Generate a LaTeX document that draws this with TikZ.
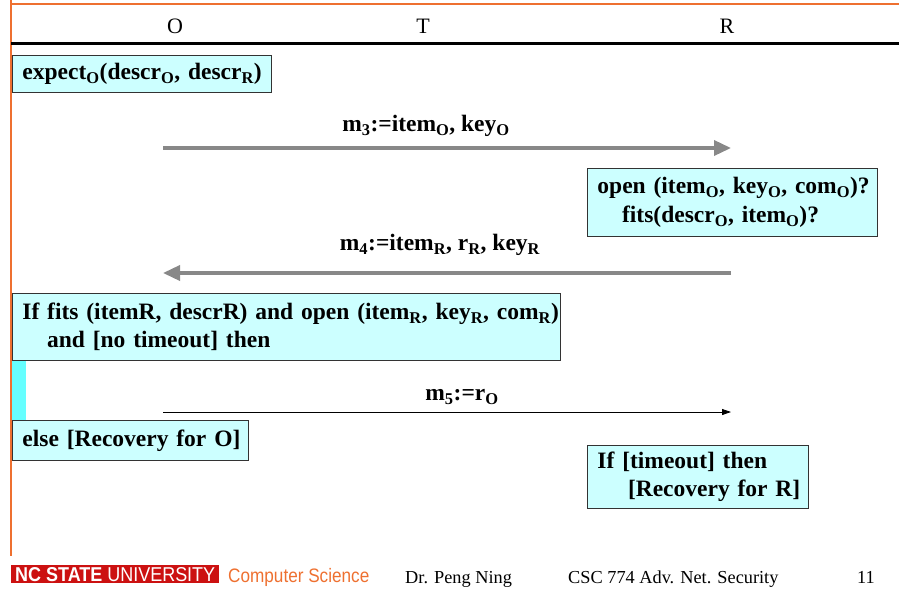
\documentclass[tikz,border=0pt]{standalone}
\usepackage{fontspec}
\setmainfont{Liberation Serif}
\newfontfamily\sansf{Liberation Sans}
\usetikzlibrary{arrows.meta}
\definecolor{boxfill}{HTML}{CCFFFF}
\definecolor{barcyan}{HTML}{66FFFF}
\definecolor{ncorange}{HTML}{EE7030}
\definecolor{ncred}{HTML}{CC1111}
\definecolor{arrgray}{HTML}{888888}
\newcommand{\sbO}{\textsubscript{O}}
\newcommand{\sbR}{\textsubscript{R}}
\begin{document}
\begin{tikzpicture}[x=1pt,y=-1pt,
  box/.style={draw=black!80, line width=0.9pt, fill=boxfill, anchor=north west, align=left,
    inner xsep=10pt, inner ysep=2pt, font=\fontsize{23.5}{28.5}\selectfont\bfseries},
  lbl/.style={font=\fontsize{23.5}{28}\selectfont\bfseries, inner sep=0pt},
  head/.style={font=\fontsize{22}{24}\selectfont, inner sep=0pt},
  foot/.style={font=\fontsize{18.3}{20}\selectfont, inner sep=0pt, anchor=base west},
  bigarrow/.style={draw=arrgray, line width=3.5pt, -{Triangle[length=17pt,width=15pt]}},
  thinarrow/.style={draw=black, line width=0.8pt, -{Triangle[length=9pt,width=6pt]}}]
\useasboundingbox (0,0) rectangle (899,600);
% frame lines
\coordinate (tl) at (11,4);
\coordinate (tr) at (899,4);
\coordinate (bl) at (11,556);
\draw[ncorange, line width=1.2pt] (tl) -- (tr);
\draw[ncorange, line width=1.2pt] (11,0) -- (bl);
\coordinate (hl) at (11,43);
\coordinate (hr) at (899,43);
\draw[black, line width=3pt] (hl) -- (hr);
% headers
\node[head] (hO) at (175,26) {O};
\node[head] (hT) at (423,26) {T};
\node[head] (hR) at (727,26) {R};
% cyan bar
\fill[barcyan] (12,356) rectangle (26,420);
% boxes
\node[box, minimum width=259pt, minimum height=37pt, text width=239pt] (b1) at (12,55)
  {\mbox{expect\sbO(descr\sbO, descr\sbR)}};
\node[box, minimum width=290pt, minimum height=68pt, text width=270pt] (b2) at (587,168)
  {\mbox{open (item\sbO, key\sbO, com\sbO)?}\\\mbox{\hspace*{1.05em}fits(descr\sbO, item\sbO)?}};
\node[box, minimum width=548pt, minimum height=67pt, text width=528pt] (b3) at (12,293)
  {\mbox{If fits (itemR, descrR) and open (item\sbR, key\sbR, com\sbR)}\\\mbox{\hspace*{1.05em}and [no timeout] then}};
\node[box, minimum width=236pt, minimum height=40pt, text width=216pt] (b4) at (12,420)
  {\mbox{else [Recovery for O]}};
\node[box, minimum width=221pt, minimum height=63pt, text width=201pt] (b5) at (587,445)
  {\mbox{If [timeout] then}\\\mbox{\hspace*{1.3em}[Recovery for R]}};
% messages
\coordinate (o3) at (163,148);
\coordinate (r3) at (731,148);
\draw[bigarrow] (o3) -- (r3);
\node[lbl] (m3) at (426,126) {m\textsubscript{3}:=item\sbO, key\sbO};
\coordinate (o4) at (163,273);
\coordinate (r4) at (731,273);
\draw[bigarrow] (r4) -- (o4);
\node[lbl] (m4) at (440,245) {m\textsubscript{4}:=item\sbR, r\sbR, key\sbR};
\coordinate (o5) at (163,412);
\coordinate (r5) at (731,412);
\draw[thinarrow] (o5) -- (r5);
\node[lbl] (m5) at (462,397) {m\textsubscript{5}:=r\sbO};
% footer
\node[fill=ncred, anchor=north west, minimum width=208pt, minimum height=18pt, inner sep=0pt] (nc) at (11,565) {};
\node[text=white, inner sep=0pt] (nct) at (nc.center)
  {\resizebox{200pt}{14pt}{\sansf\textbf{NC STATE} UNIVERSITY}};
\node[foot, text=ncorange, font=\fontsize{19.5}{21}\selectfont\sansf] (cs) at (228,582) {\scalebox{0.88}[1]{Computer Science}};
\node[foot] (pn) at (405,583) {Dr. Peng Ning};
\node[foot] (csc) at (568,583) {CSC 774 Adv. Net. Security};
\node[foot] (pg) at (857,583) {11};
\end{tikzpicture}
\end{document}
